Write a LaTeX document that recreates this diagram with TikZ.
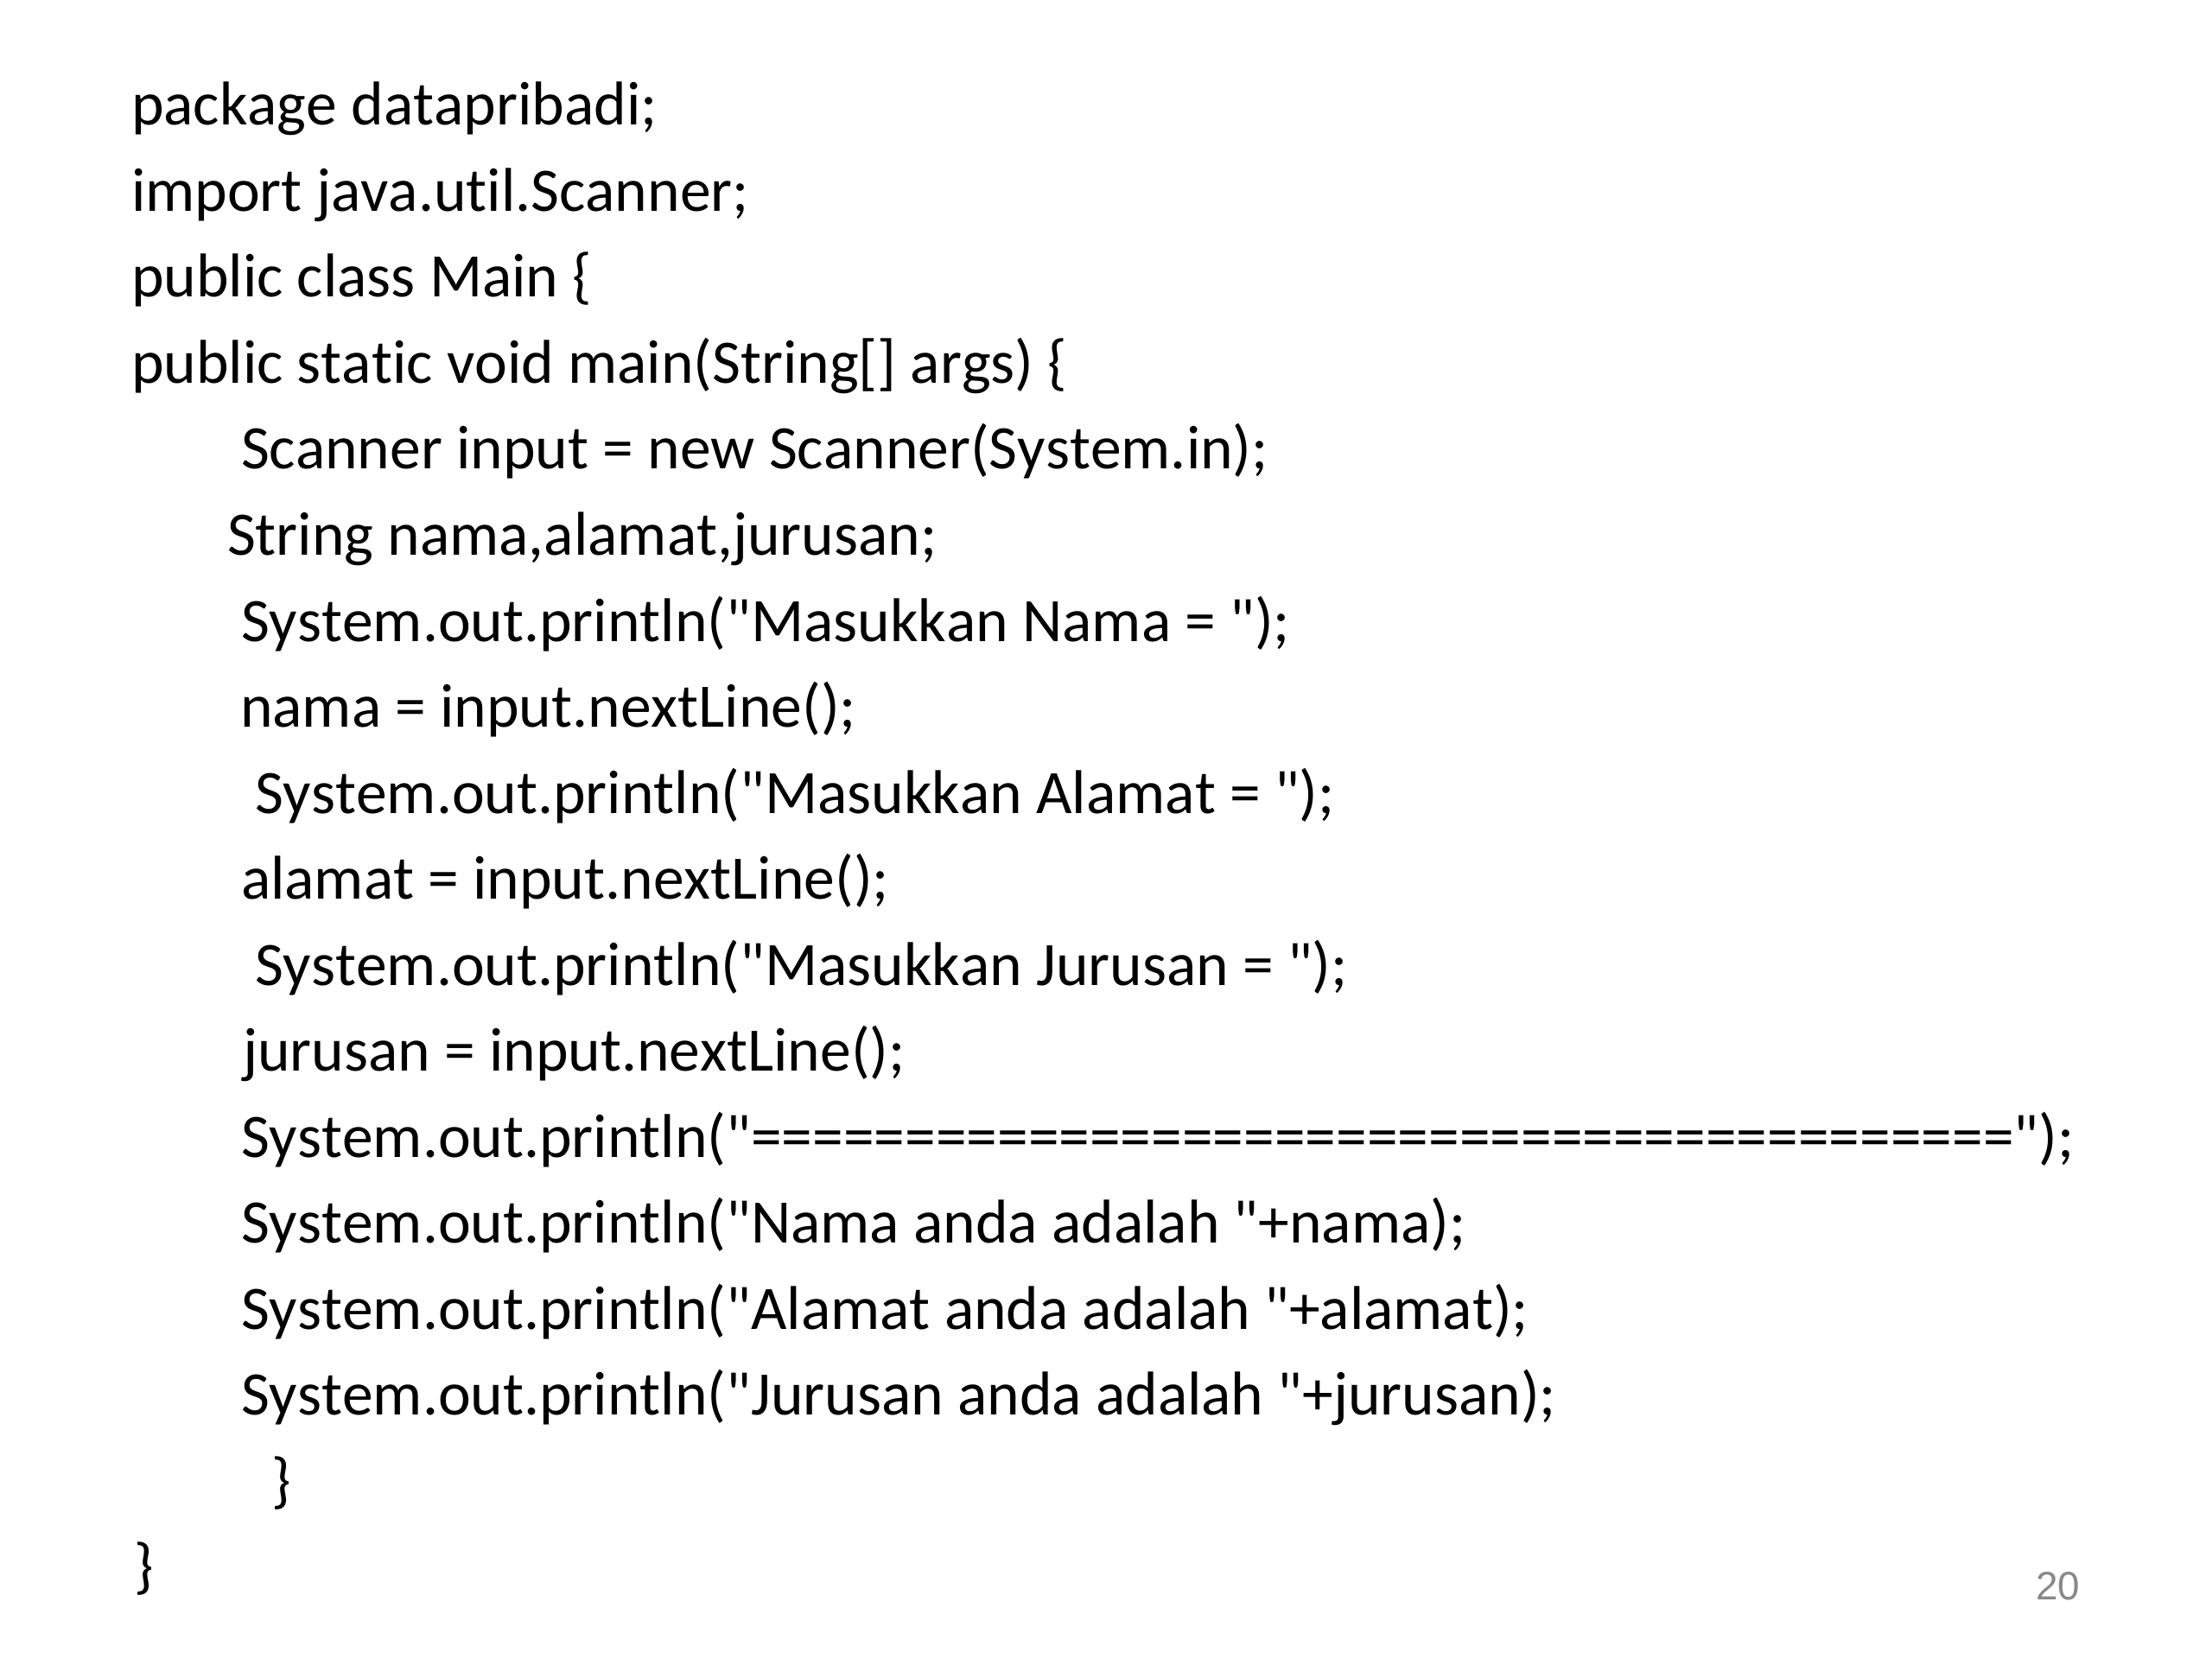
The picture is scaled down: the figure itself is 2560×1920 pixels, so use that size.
\documentclass[tikz,border=0pt]{standalone}
\usepackage{fontspec}
\newfontfamily\codefont{Carlito}[Ligatures=NoCommon,Kerning=Off]
\newfontfamily\numfont{Liberation Sans}
\definecolor{slidegray}{HTML}{898989}
\begin{document}
\begin{tikzpicture}[x=0.28125pt,y=-0.28125pt,
  codeline/.style={anchor=base west,inner sep=0pt,outer sep=0pt,font=\codefont\fontsize{20.13pt}{24pt}\selectfont,text=black},
  pagenum/.style={anchor=base east,inner sep=0pt,outer sep=0pt,font=\numfont\fontsize{12.9pt}{15pt}\selectfont,text=slidegray}]
\useasboundingbox[fill=white] (0,0) rectangle (2560,1920);
\node[codeline] (l0)  at (152,145.0)  {package datapribadi;};
\node[codeline] (l1)  at (152,244.5)  {import java.util.Scanner;};
\node[codeline] (l2)  at (152,344.0)  {public class Main \{};
\node[codeline] (l3)  at (152,443.5)  {public static void main(String[] args) \{};
\node[codeline] (l4)  at (279,543.0)  {Scanner input = new Scanner(System.in);};
\node[codeline] (l5)  at (263,642.5)  {String nama,alamat,jurusan;};
\node[codeline] (l6)  at (279,742.0)  {System.out.println("Masukkan Nama = ");};
\node[codeline] (l7)  at (278,841.5)  {nama = input.nextLine();};
\node[codeline] (l8)  at (295,941.0)  {System.out.println("Masukkan Alamat = ");};
\node[codeline] (l9)  at (279,1040.5) {alamat = input.nextLine();};
\node[codeline] (l10) at (295,1140.0) {System.out.println("Masukkan Jurusan = ");};
\node[codeline] (l11) at (281,1239.5) {jurusan = input.nextLine();};
\node[codeline] (l12) at (279,1339.0) {System.out.println("=========================================");};
\node[codeline] (l13) at (279,1438.5) {System.out.println("Nama anda adalah "+nama);};
\node[codeline] (l14) at (279,1538.0) {System.out.println("Alamat anda adalah "+alamat);};
\node[codeline] (l15) at (279,1637.5) {System.out.println("Jurusan anda adalah "+jurusan);};
\node[codeline] (l16) at (314,1737.0) {\}};
\node[codeline] (l17) at (155,1836.5) {\}};
\node[pagenum] (pn) at (2407,1851) {20};
\end{tikzpicture}
\end{document}
